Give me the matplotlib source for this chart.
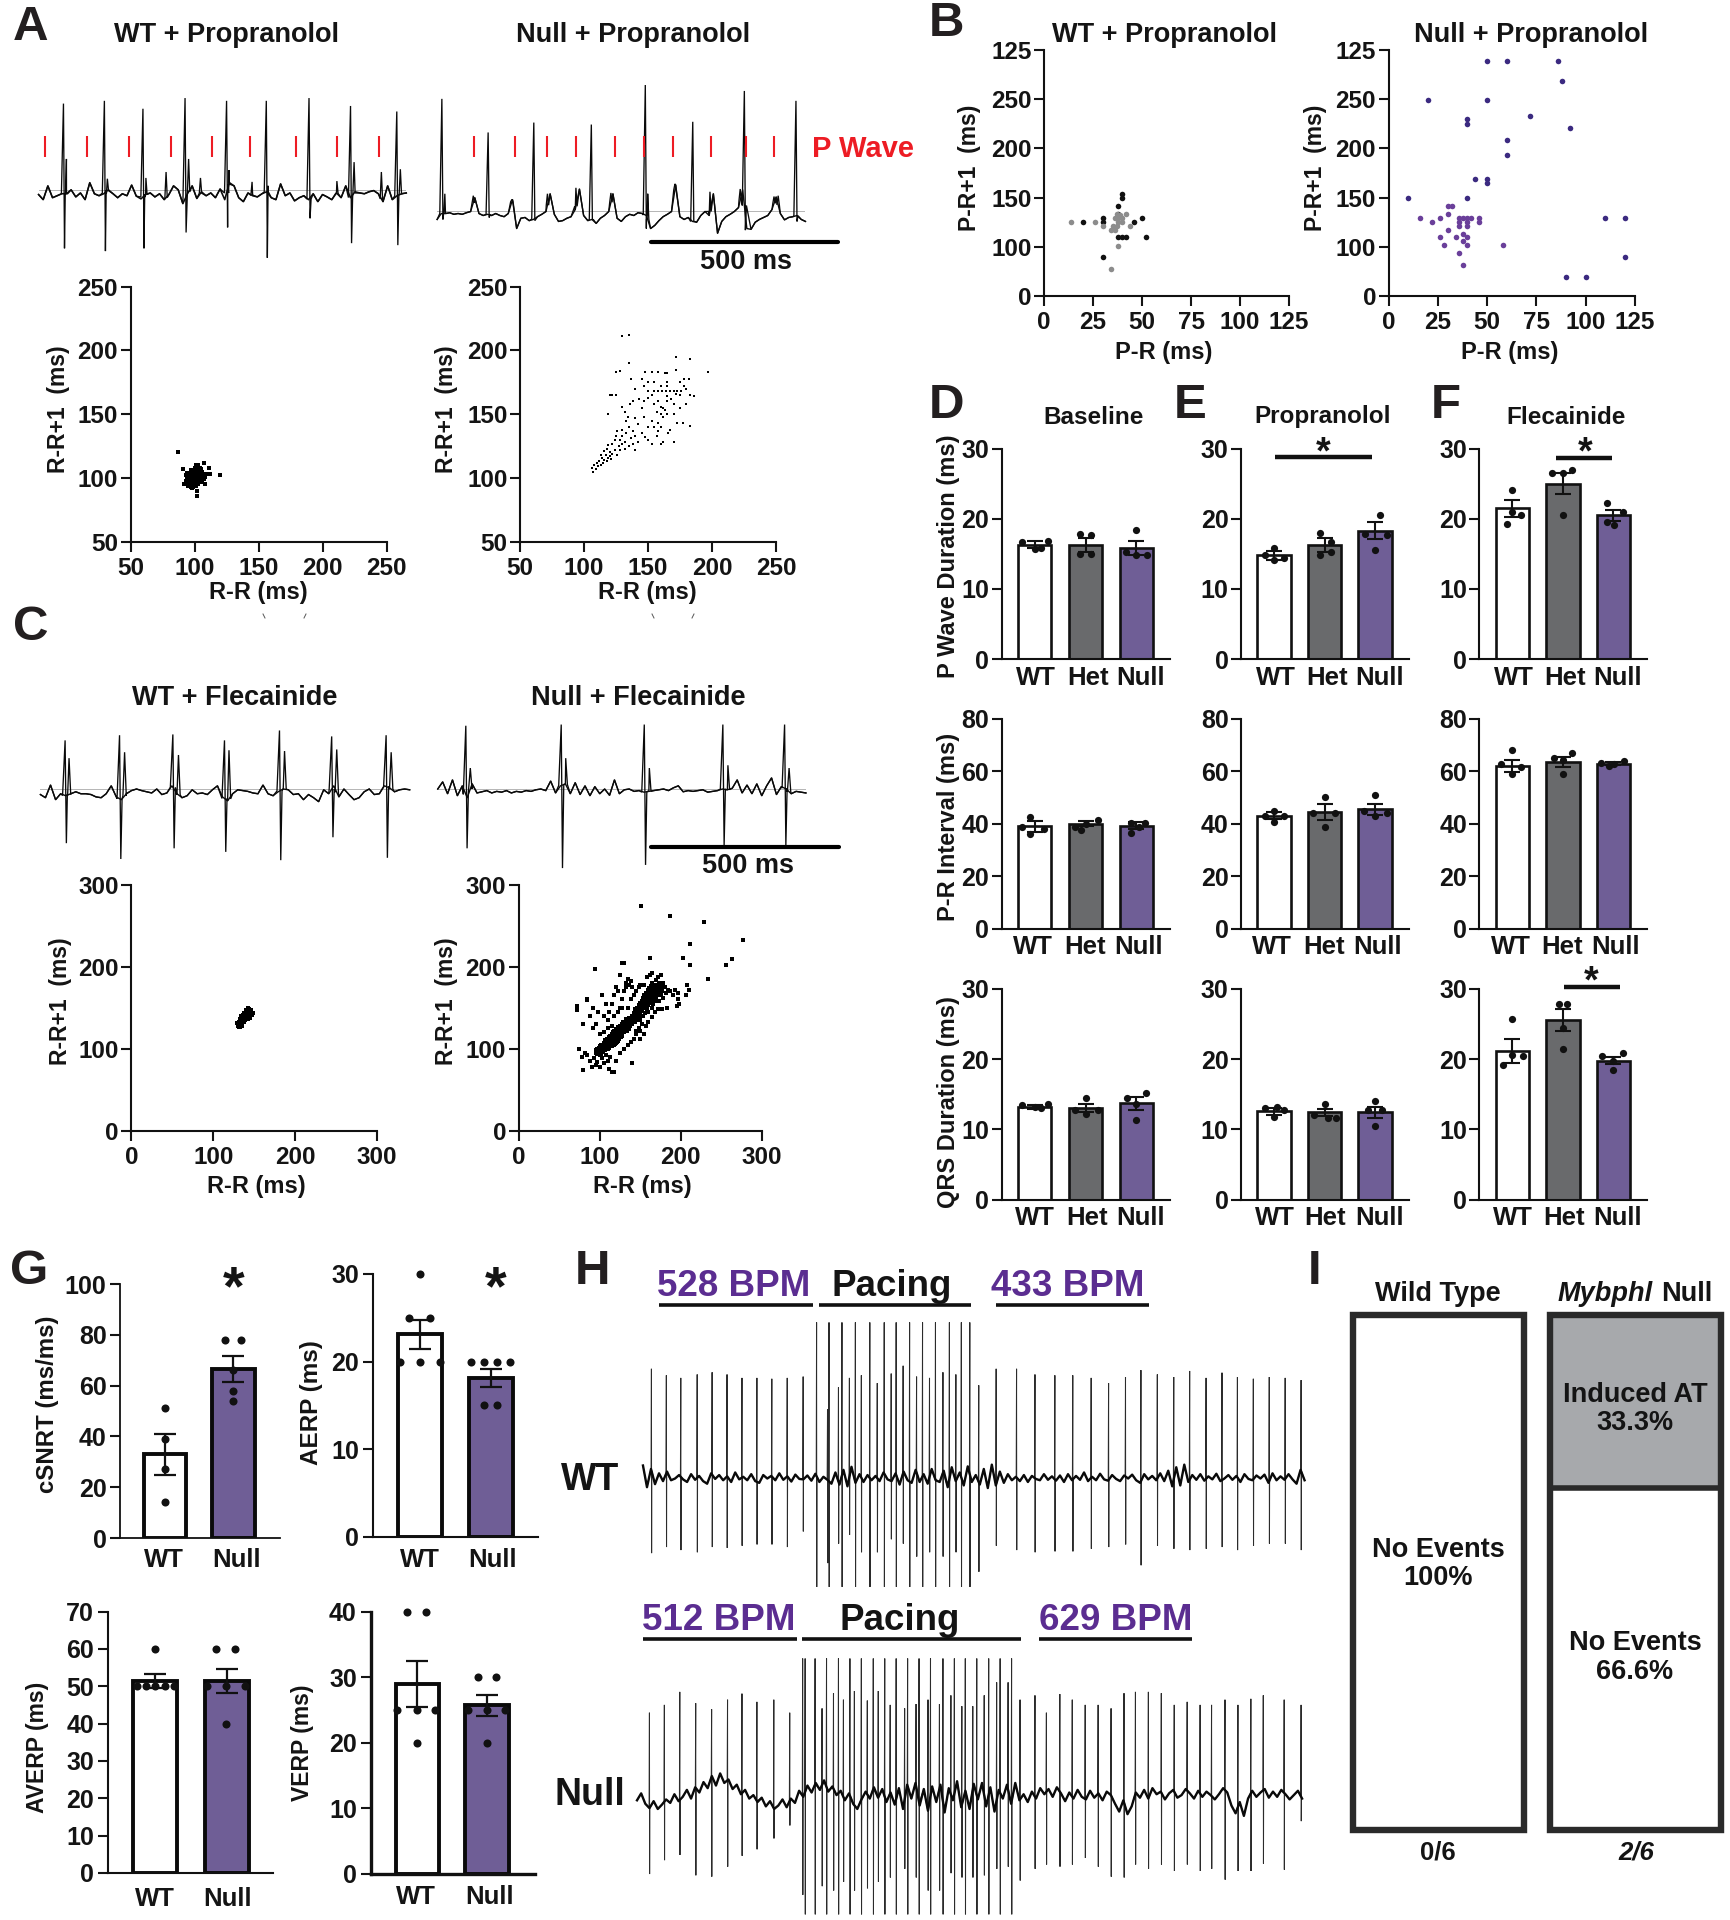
import numpy as np
import matplotlib
matplotlib.use("Agg")
import matplotlib.pyplot as plt

plt.rcParams['font.family'] = ['Liberation Sans', 'DejaVu Sans']
plt.rcParams['font.weight'] = 'bold'
plt.rcParams['axes.labelweight'] = 'bold'

W, H = 1730, 1920
INK = '#141414'
PURPLE = '#6f5e96'
GREY = '#696a6c'
BPM = '#5b2d91'
RED = '#ed1c24'

# ---------- scatter data ----------
a_wt = [(95,94),(97,93),(99,93),(101,94),(103,95),(94,96),(96,96),(98,96),(100,96),(102,96),(104,97),(106,97),(93,98),(95,98),(97,98),(99,98),(101,98),(103,98),(105,99),(107,99),(94,100),(96,100),(98,100),(100,100),(102,100),(104,100),(106,101),(108,101),(95,102),(97,102),(99,102),(101,102),(103,102),(105,103),(107,103),(110,103),(94,104),(96,104),(98,104),(100,104),(102,104),(104,104),(106,105),(97,106),(99,106),(101,106),(103,106),(105,107),(100,108),(102,108),(104,108),(101,110),(103,110),(98,92),(102,90),(102,86),(87,120),(120,102),(107,112),(111,108),(91,107),(112,103),(92,95),(108,95),(93,102)]
a_null = [(106,108),(107,105),(108,110),(109,107),(110,112),(111,109),(112,113),(113,110),(114,116),(115,112),(116,114),(117,118),(118,113),(119,116),(120,120),(121,115),(113,118),(116,121),(118,123),(120,117),(122,119),(124,122),(126,118),(119,126),(122,127),(124,130),(127,125),(128,122),(130,127),(132,123),(125,133),(128,130),(130,133),(132,128),(135,125),(137,131),(138,127),(140,122),(126,137),(130,138),(133,135),(135,140),(138,137),(140,133),(142,128),(145,135),(148,132),(150,130),(153,127),(158,137),(162,128),
 (120,165),(122,165),(125,165),(119,150),(130,156),(132,152),(134,148),(136,158),(138,160),(133,145),(140,147),(142,142),(145,155),(147,148),(143,162),(140,170),(147,172),(137,178),(135,190),(125,183),(128,184),(130,211),(135,212),
 (150,168),(155,168),(158,168),(161,168),(164,168),(167,168),(170,168),(173,168),(176,168),(165,160),(165,175),(165,182),(165,172),(165,164),(158,160),(160,156),(162,155),(155,158),(157,152),(160,150),(163,153),(168,162),(170,158),(165,150),(170,150),(172,166),(175,175),(178,172),(180,170),(183,165),(186,164),(172,195),(183,193),(197,183),(182,178),(178,178),(175,165),(172,185),(153,183),(158,183),(163,182),(155,175),(160,172),(150,175),(145,178),(148,183),(166,135),(167,138),(155,140),(158,143),(160,140),(162,148),(153,145),(157,133),(150,140),(170,128),(160,127),(183,141),(177,143),(173,143),(175,155),(180,158),(150,163),(147,160),(153,165)]
c_wt = [(130,128),(132,130),(131,133),(133,127),(135,131),(134,134),(133,136),(136,134),(137,137),(135,138),(138,132),(139,135),(137,140),(140,138),(141,141),(139,143),(142,136),(143,139),(144,143),(141,145),(143,146),(145,141),(146,144),(144,148),(146,147),(148,144),(142,149),(140,147),(138,144),(136,141),(134,140),(145,137),(147,141),(135,128),(132,126),(129,131)]
c_null = [(95,95),(96,98),(97,94),(97,100),(98,97),(99,93),(99,101),(100,96),(100,103),(101,99),(102,94),(102,105),(103,100),(103,97),(104,103),(105,100),(105,107),(106,104),(106,98),(107,110),(107,102),(108,106),(109,101),(109,112),(110,108),(110,104),(111,114),(111,106),(112,110),(112,101),(113,116),(113,108),(114,112),(114,104),(115,118),(115,110),(115,106),(116,114),(116,120),(117,108),(117,112),(118,116),(118,122),(118,104),(119,110),(119,119),(120,114),(120,124),(120,107),(121,118),(121,112),(122,121),(122,126),(122,109),(123,115),(123,119),(124,123),(124,112),(125,128),(125,118),(126,121),(126,114),(127,125),(127,130),(128,118),(128,123),(129,127),(129,133),(130,120),(130,129),(131,125),(132,131),(132,136),(133,127),(134,122),(134,133),(135,129),(136,137),(136,124),
 (140,140),(141,135),(142,143),(143,138),(144,148),(144,132),(145,142),(146,150),(146,137),(147,145),(148,153),(148,140),(149,147),(150,156),(150,143),(150,135),(151,150),(152,158),(152,146),(153,162),(153,153),(154,140),(154,149),(155,165),(155,156),(156,144),(156,160),(157,152),(157,168),(158,163),(158,148),(159,157),(159,171),(160,166),(160,153),(160,145),(161,160),(161,174),(162,169),(162,156),(163,164),(163,177),(164,150),(164,172),(165,160),(165,167),(165,180),(166,175),(166,155),(167,163),(167,170),(168,178),(168,158),(169,166),(169,184),(170,172),(170,162),(171,176),(172,168),(172,188),(173,158),(174,172),(175,165),(175,180),(176,190),(177,170),(178,162),(180,175),(182,168),(184,172),(187,170),(190,165),(193,172),(196,168),(198,155),(195,152),(183,150),(177,148),(172,148),(168,145),(165,138),(160,132),(157,128),(152,130),(148,125),(145,122),
 (110,135),(112,145),(115,155),(118,165),(120,175),(122,170),(125,190),(128,204),(130,205),(132,180),(135,185),(138,182),(136,178),(133,175),(130,170),(128,160),(125,150),(122,145),(118,140),(115,128),(110,125),(105,120),(100,118),(95,130),(92,125),(85,159),(80,130),(88,140),(92,150),(98,145),(105,140),(108,155),(103,165),(94,197),(72,152),(72,147),(84,160),(128,150),(135,150),(138,160),(142,165),(145,170),(140,175),(148,175),(150,178),(155,178),(158,188),(162,190),(165,192),
 (75,99),(80,74),(85,92),(88,85),(90,78),(93,88),(95,80),(97,84),(100,78),(103,88),(105,82),(108,92),(110,85),(113,90),(115,72),(118,71),(112,75),(120,85),(125,95),(130,100),(135,105),(140,82),(138,108),(142,112),(145,118),(150,112),(155,118),(150,122),(82,95),(78,90),
 (151,274),(187,262),(229,254),(276,232),(211,228),(203,210),(162,210),(211,202),(263,209),(256,202),(233,185),(207,178),(210,172),(196,160),(206,165),
 (101,92),(104,96),(106,101),(108,99),(110,100),(112,106),(113,103),(115,103),(117,115),(119,106),(121,108),(123,111),(125,122),(127,116),(128,126),(130,124),(131,130),(133,124),(135,133),(137,128),(138,134),(140,130),(141,138),(143,134),(145,139),(147,135),(149,151),(151,146),(152,153),(154,158),(156,150),(157,157),(158,155),(160,160),(161,168),(162,162),(163,170),(164,158),(165,173),(166,162),(167,176),(168,166),(169,172),(170,178),(171,168),(172,174),(173,180),(174,165),(176,175),(178,180),(115,113),(117,118),(119,122),(121,122),(122,116),(124,119),(126,124),(128,120)]

b_wt_dark = [(20,75),(30,79),(30,75),(40,103.5),(40,99.5),(38,91.7),(38,83.6),(50,79),(46,75),(38,59.5),(40,59.5),(42,59.5),(52,59.5),(30,39.6)]
b_wt_grey = [(14,75),(26,75),(30,70.7),(34,67),(36,67),(37,70.7),(38,75),(36,79),(38,79),(40,79),(37,83.6),(39,82.5),(42,83.6),(44,70.7),(38,51),(34,27.7),(40,75),(35,70.7)]
b_null_dark = [(50,238.8),(60,238.8),(86,238.8),(88,218.9),(20,199),(50,199),(72,183),(40,179.6),(40,174.9),(92,171.2),(60,159),(60,143.1),(44,119.4),(50,119.4),(50,114.7),(10,99.5),(40,99.5),(110,79.2),(120,79.2),(120,39.6),(90,19.6),(100,19.6)]
b_null_light = [(16,79),(22,75),(26,79),(30,91),(32,91),(30,83),(30,67.3),(26,59.5),(28,51.4),(34,59.5),(38,63),(40,59.5),(38,55.5),(40,51.4),(36,43.6),(38,31.5),(58,51.4),(36,79),(38,79),(40,79),(42,79),(36,75),(40,75),(36,70.7),(40,70.7),(46,79),(46,75)]

# ---------- bar data: rows P wave / P-R / QRS, columns baseline / propranolol / flecainide ----------
genotypes = ['WT', 'Het', 'Null']
means = [[[16.3,16.3,15.9],[14.8,16.2,18.3],[21.5,25.0,20.5]],
         [[39.0,40.0,39.3],[43.0,44.5,45.5],[62.0,63.5,63.0]],
         [[13.2,13.0,13.7],[12.6,12.4,12.4],[21.2,25.6,19.8]]]
sems =  [[[0.5,1.0,1.0],[0.6,1.0,1.2],[1.2,1.5,0.8]],
         [[2.0,1.0,1.2],[1.3,3.0,2.0],[2.3,2.0,0.5]],
         [[0.3,0.6,0.9],[0.5,0.5,0.8],[1.7,1.6,0.5]]]
dots = [[[[(-.24,16.7),(.26,16.9),(0,15.7),(.13,15.9)],[(-.11,17.9),(.11,17.7),(-.11,15),(.11,15)],[(0,18.4),(-.21,15.3),(0,14.9),(.21,14.9)]],
         [[(0,15.9),(-.17,14.8),(0,14.1),(.2,14.4)],[(-.08,18),(.12,16.7),(-.08,14.9),(.12,15.2)],[(.1,20.6),(-.2,17.9),(.23,17.7),(0,15.5)]],
         [[(0,24.1),(0,21),(.18,20.5),(-.1,19.3)],[(-.21,26.5),(.19,27),(0,26.5),(0,20.6)],[(-.12,22.2),(.18,20.9),(-.12,19.6),(.01,19.1)]]],
        [[[(-.1,42.5),(-.24,38.7),(.18,38.1),(-.1,36)],[(.24,41.3),(-.21,38.7),(0,39.8),(-.09,37.7)],[(-.11,40.2),(.17,40.4),(.06,38.7),(-.11,36.6)]],
         [[(0,45),(-.17,42.9),(.2,42.9),(0,40.8)],[(0,50.3),(-.23,44),(.2,44),(0,38.7)],[(0,50.9),(-.22,45),(.23,44),(0,42.9)]],
         [[(0,68),(-.23,62.8),(.17,61.8),(0,59)],[(-.18,65),(.19,67),(0,64.5),(0,59)],[(-.24,63.2),(.01,62.8),(.21,63.9),(-.09,62.2)]]],
        [[[(-.25,13.4),(.26,13.6),(0,13.2),(.13,13)],[(0,14.5),(-.21,12.8),(0,12.2),(.24,12.7)],[(-.19,14.5),(.19,15.2),(0,13.6),(0,11.3)]],
         [[(-.17,13),(.07,13.2),(.2,12.7),(0,11.8)],[(0,13.6),(-.21,12),(.07,11.6),(.22,11.6)],[(0,14),(-.14,12.7),(.13,12.7),(0,10.5)]],
         [[(0,25.7),(.22,20.5),(0,20.6),(-.18,19.2)],[(-.08,27.8),(.09,27.8),(0,24.5),(0,21.4)],[(-.22,20.5),(.18,20.8),(0,19.8),(0,18.5)]]]]
row_ymax = [30, 80, 30]
row_yticks = [[0,10,20,30],[0,20,40,60,80],[0,10,20,30]]
row_labels = ['P Wave Duration (ms)', 'P-R Interval (ms)', 'QRS Duration (ms)']
col_titles = ['Baseline', 'Propranolol', 'Flecainide']

# ---------- panel G ----------
g_groups = ['WT', 'Null']
csnrt = dict(mean=[33,66.5], sem=[8,5], pts=[[(0,51),(0,39),(0,27),(0,14)],[(-.12,78),(.11,78),(0,66),(0,58),(0,54)]])
aerp = dict(mean=[23.1,18.1], sem=[1.65,1.0], pts=[[(0,30),(-.15,25),(.14,25),(-.28,20),(0,20),(.28,20)],[(-.28,20),(-.1,20),(.09,20),(.27,20),(-.1,15),(.09,15)]])
averp = dict(mean=[51.4,51.4], sem=[1.9,3.2], pts=[[(0,60),(-.26,50),(-.13,50),(0,50),(.13,50),(.26,50)],[(-.15,60),(.12,60),(-.28,50),(-.01,50),(.26,50),(-.01,40)]])
verp = dict(mean=[28.9,25.7], sem=[3.5,1.6], pts=[[(-.15,40),(.12,40),(-.29,25),(0,25),(.25,25),(0,20)],[(-.13,30),(.13,30),(-.28,25),(0,25),(.26,25),(0,20)]])

# ---------- ECG traces (arbitrary units) ----------
aw_base = [492,505,470,500,495,490,490,480,498,488,505,462,490,495,490,480,490,500,490,495,468,496,503,492,488,498,490,505,492,470,480,515,490,470,502,485,495,488,500,478,505,462,470,500,510,488,495,498,490,485,500,505,465,495,488,508,500,495,505,490,510,492,498,505,488,500,470,500,485,488,490,485,482,490,510,470,505,495,490,488]
aw_spk_t = [107,176,241,312,382,449,521,591,669]
aw_spk_top = [262,255,275,248,255,255,248,268,282]
aw_spk_bot = [628,635,628,588,575,652,552,615,620]
aw_bump_t = [112,181,246,280,318,338,386,425,452,568,597,643,675]
aw_bump_top = [402,452,450,435,402,450,430,460,470,458,410,435,428]
an_base = [555,540,540,538,542,540,542,538,535,500,540,545,542,545,540,545,548,540,505,578,552,550,558,555,548,542,535,490,542,560,558,552,548,530,478,545,558,555,565,552,545,535,490,552,560,548,542,545,538,540,545,578,570,558,548,542,535,468,548,555,550,560,562,545,535,545,490,590,560,548,542,535,525,480,578,580,562,555,550,545,530,498,540,556,550,548,545,555,560]
an_spk_t = [745,823,900,997,1088,1168,1255,1342]
an_spk_top = [250,335,310,315,215,308,230,255]
an_spk_bot = [555,550,558,555,578,560,582,560]
an_bump_t = [750,798,863,923,971,1030,1092,1138,1197,1248,1305,1312]
an_bump_top = [490,495,505,490,475,488,490,465,485,478,497,495]
cw_base = [492,500,468,505,490,495,490,485,490,490,492,498,500,490,470,498,505,490,482,478,482,485,488,478,492,488,470,490,500,495,480,490,488,492,480,470,498,508,490,480,482,484,488,490,468,490,495,485,478,480,492,490,505,492,500,510,480,490,470,498,478,492,505,500,485,478,492,490,470,475,485,480,478,480]
cw_spk_t = [116,213,308,400,498,591,688]
cw_spk_top = [355,342,340,355,330,345,342]
cw_spk_bot = [615,655,628,637,658,600,652]
cw_bump_t = [123,222,318,408,507,600,697]
cw_bump_top = [400,385,392,380,382,378,385]
cn_base = [478,460,490,455,495,470,500,465,488,485,482,488,484,486,482,488,484,486,482,484,480,478,482,458,488,470,465,490,462,492,470,495,472,490,478,494,455,490,480,478,484,482,486,484,482,480,478,482,475,470,485,482,484,482,480,486,484,482,478,480,476,455,488,468,490,465,495,470,450,492,472,478,490,484,486,488]
cn_spk_t = [830,1000,1148,1288,1398]
cn_spk_top = [318,315,315,315,315]
cn_spk_bot = [628,678,670,620,620]
cn_bump_t = [838,1008,1157,1297,1406]
cn_bump_top = [425,400,425,418,425]

hw_dev = [-28,22,-20,15,-10,8,-14,6,2,-6,4,10,-8,5,-4,8,14,-10,3,-6,6,-3,10,-12,4,-2,6,-8,8,12,-6,2,-4,6,-10,5,-3,9,-7,3,4,-5,7,-9,10,-2,5,14,-12,16,-18,20,-25,12,-8,10,-6,6,-4,8,-12,4,8,-10,16,-14,6,12,-18,10,-8,14,-20,6,10,-16,22,-24,8,-12,18,-26,10,-6,16,-20,24,-30,18,-14,12,-8,6,-2,8,-6,10,-4,3,6,-8,5,-3,7,-5,10,-8,6,-4,5,-12,8,-2,6,-9,4,7,-6,3,8,-5,2,-7,6,12,-8,4,-4,6,-10,8,-16,20,-24,18,-30,10,-6,5,-8,7,-3,4,-9,8,2,-6,5,-4,10,-8,3,6,-5,2,-7,12,-10,6,-3,5,-8,4,14,-18,6]
hw_spk_t = [224,254,283,316,346,376,406,436,466,497,529,556,578,581,600,607,622,634,646,663,678,692,706,716,730,743,757,769,783,795,810,823,836,847,864,882,917,958,995,1035,1071,1108,1143,1177,1208,1241,1274,1306,1339,1371,1402,1434,1466,1498,1530]
hw_spk_top = [297,312,318,310,305,310,318,318,320,318,315,190,390,190,340,190,318,190,312,190,330,190,308,190,290,190,315,190,318,190,305,190,310,190,190,335,297,297,310,312,312,318,330,316,300,310,316,302,318,306,316,320,316,318,323]
hw_spk_bot = [722,708,715,720,708,710,705,702,702,708,672,800,745,800,700,800,680,800,720,800,720,800,690,800,700,800,730,800,720,800,730,800,720,800,800,765,705,715,720,718,718,712,708,702,750,705,712,715,712,708,715,705,700,700,715]
hn_dev = [10,-6,18,28,12,30,20,8,16,-4,12,2,-14,6,-20,-8,-32,-18,-46,-24,-52,-30,-38,-16,-26,-4,-14,6,-2,14,4,24,12,30,22,8,26,6,16,-12,2,-24,-8,-30,-14,-36,-10,-22,-2,-12,10,-6,18,30,8,-10,6,-20,4,-16,14,-8,20,-18,30,-26,6,-30,22,-16,34,-22,14,-26,38,-18,10,-34,26,-12,30,-28,8,-30,24,-20,36,-14,6,-26,18,-30,10,-4,14,-10,6,-18,-4,-16,2,-20,-6,12,-8,6,-14,2,8,-12,4,-6,10,-10,-2,18,36,10,42,24,-8,4,-14,6,-18,-4,-10,8,-6,-14,4,-2,-16,-6,6,-12,2,-10,-2,8,-4,-18,-8,22,40,14,46,6,-12,2,-8,-16,4,-10,2,-14,-4,8,-2,-12,6]
hn_spk_t = [220,250,281,313,345,377,406,436,470,502,528,533,553,567,576,590,600,610,623,632,646,658,670,680,693,704,716,733,739,756,762,780,785,803,810,826,833,848,855,870,878,893,902,918,925,941,948,965,995,1018,1045,1070,1096,1122,1148,1174,1197,1223,1249,1275,1301,1327,1350,1377,1403,1429,1454,1496,1530]
hn_spk_top = [1090,1072,1042,1068,1082,1060,1046,1065,1060,1090,965,965,965,1080,965,1045,965,1060,965,1040,965,1062,965,1040,965,1072,965,1080,965,1070,965,1060,965,1070,965,1050,965,1075,965,1075,965,1050,965,1020,965,1020,965,1060,1050,1090,1047,1060,1072,1072,1080,1045,1042,1042,1045,1072,1065,1072,1072,1060,1072,1058,1050,1060,1072]
hn_spk_bot = [1462,1430,1418,1465,1468,1445,1420,1405,1380,1350,1510,1555,1555,1490,1555,1500,1555,1480,1555,1500,1555,1495,1555,1480,1555,1470,1555,1450,1555,1470,1555,1500,1555,1500,1555,1460,1555,1470,1555,1470,1555,1465,1555,1450,1555,1445,1555,1477,1450,1440,1445,1440,1425,1445,1468,1470,1440,1450,1440,1455,1440,1455,1450,1475,1455,1455,1438,1452,1340]

p_wave_wt = [76,147,217,288,358,421,499,568,639]
p_wave_null = [800,868,922,971,1037,1085,1135,1198,1258,1305]

fig = plt.figure(figsize=(W/100, H/100), dpi=100, facecolor='white')

def ax_px(x0, ytop, x1, ybot, **kw):
    return fig.add_axes([x0/W, 1-ybot/H, (x1-x0)/W, (ybot-ytop)/H], **kw)

ov = ax_px(0, 0, W, H, zorder=50)
ov.set_xlim(0, W); ov.set_ylim(H, 0); ov.axis('off'); ov.patch.set_alpha(0)

def T(x, y, s, size=17, color=INK, **kw):
    kw.setdefault('ha', 'center'); kw.setdefault('va', 'center')
    return ov.text(x, y + 2, s, fontsize=size, color=color, fontweight=kw.pop('weight', 'bold'), **kw)

def style(ax, spine=1.5, tick=True):
    for s in ('top', 'right'):
        ax.spines[s].set_visible(False)
    for s in ('left', 'bottom'):
        ax.spines[s].set_linewidth(spine); ax.spines[s].set_color('#111111')
    ax.patch.set_alpha(0)

def scatter_panel(rect, lim, ticks, pts, ms=1.9):
    ax = ax_px(*rect); style(ax)
    arr = np.array(pts, float)
    ax.plot(arr[:, 0], arr[:, 1], ls='', marker='s', ms=ms, mew=0, color='black', clip_on=False)
    ax.set_xlim(*lim); ax.set_ylim(*lim)
    ax.set_xticks(ticks); ax.set_yticks(ticks)
    ax.tick_params(length=7, width=1.5, labelsize=17.5, pad=2, colors=INK)
    ax.tick_params(axis='x', pad=4)
    return ax

def trace(ox, oy, sx, sy, x0, x1, ytop, ybot, base, t, top, bot, bt=(), btop=(), guide=None, dt=3.0, lw=1.0, bw=2.0, devlevel=None, base_lw=1.2, color='#0a0a0a'):
    ax = ax_px(ox+x0/sx, oy+ytop/sy, ox+x1/sx, oy+ybot/sy)
    ax.axis('off'); ax.set_xlim(x0, x1); ax.set_ylim(ybot, ytop); ax.patch.set_alpha(0)
    base = np.array(base, float)
    if devlevel is not None:
        base = base + devlevel
    xb = np.linspace(x0, x1, len(base))
    keep = np.ones(len(xb), bool)
    xs, ys = [], []
    for ti, a, b in zip(t, top, bot):
        yb = np.interp(ti, xb, base)
        keep &= ~((xb > ti-dt) & (xb < ti+dt+1))
        xs += [ti-dt, ti, ti+dt*0.5, ti+dt]
        ys += [yb, a, b, yb]
    for ti, a in zip(bt, btop):
        yb = np.interp(ti, xb, base)
        xs += [ti-bw, ti, ti+bw]
        ys += [yb, a, yb]
    xs = np.r_[xb[keep], xs]; ys = np.r_[base[keep], ys]
    idx = np.argsort(xs, kind='stable')
    if guide is not None:
        ax.plot([x0, x1], [guide, guide], color='#b5b5b5', lw=0.7)
    ax.plot(xs[idx], ys[idx], color=color, lw=lw, clip_on=False, solid_joinstyle='miter')
    ax.plot(xb, base, color='#0a0a0a', lw=base_lw, clip_on=False)
    return ax

# ---------- Panel letters ----------
for x, y, s in [(31,26,'A'),(946,22,'B'),(31,626,'C'),(946,403,'D'),(1190,403,'E'),(1446,403,'F'),(29,1270,'G'),(592,1270,'H'),(1315,1270,'I')]:
    T(x, y, s, size=35.5, color='#231f20')

# ---------- Panel A ----------
T(227, 33, 'WT + Propranolol', 19.5); T(633, 33, 'Null + Propranolol', 19.5)
sx, sy = 1568/930, 1568/620
ax = trace(0, 0, sx, sy, 65, 685, 240, 655, aw_base, aw_spk_t, aw_spk_top, aw_spk_bot, aw_bump_t, aw_bump_top, guide=481, dt=3.5, lw=0.95, base_lw=1.15)
ax.vlines(p_wave_wt, 345, 398, color=RED, lw=1.5)
ax = trace(0, 0, sx, sy, 737, 1358, 210, 600, an_base, an_spk_t, an_spk_top, an_spk_bot, an_bump_t, an_bump_top, guide=533, dt=3.5, lw=0.95, base_lw=1.0)
ax.vlines(p_wave_null, 345, 398, color=RED, lw=1.5)
T(863, 147, 'P Wave', 21, color=RED)
ov.plot([651, 838], [242, 242], color='black', lw=3, solid_capstyle='round')
T(746, 260, '500 ms', 19.5)
scatter_panel((130.5, 286.7, 386.7, 541.7), (50, 250), [50,100,150,200,250], a_wt, ms=3.0)
scatter_panel((520, 286.7, 776, 541.7), (50, 250), [50,100,150,200,250], a_null, ms=2.1)
T(59, 407, 'R-R+1  (ms)', 16.5, rotation=90); T(446.6, 407, 'R-R+1  (ms)', 16.5, rotation=90)
T(258, 591, 'R-R (ms)', 17); T(647.7, 591, 'R-R (ms)', 17)
for x0, x1 in [(263, 265), (306, 304), (652, 654), (694, 692)]:
    ov.plot([x0, x1], [614, 618], color='#555555', lw=0.7)

# ---------- Panel B ----------
T(1164, 33, 'WT + Propranolol', 19.5); T(1531, 33, 'Null + Propranolol', 19.5)
b_ylab = ['0', '100', '150', '200', '250', '125']
for rect, sets in [((1044, 50, 1289, 296), [(b_wt_dark, '#111111'), (b_wt_grey, '#8c8c8c')]),
                   ((1388.5, 50, 1635, 296), [(b_null_dark, '#3b2a80'), (b_null_light, '#6a3f9a')])]:
    ax = ax_px(*rect); style(ax)
    for pts, col in sets:
        arr = np.array(pts, float)
        ax.plot(arr[:, 0], arr[:, 1], ls='', marker='o', ms=4.0, mew=0, color=col, clip_on=False)
    ax.set_xlim(0, 125); ax.set_ylim(0, 250)
    ax.set_xticks([0,25,50,75,100,125]); ax.set_yticks([0,50,100,150,200,250]); ax.set_yticklabels(b_ylab)
    ax.tick_params(length=7, width=1.5, labelsize=17.5, pad=2, colors=INK)
    ax.tick_params(axis='x', pad=4)
T(969.5, 166, 'P-R+1  (ms)', 16.5, rotation=90); T(1315.6, 166, 'P-R+1  (ms)', 16.5, rotation=90)
T(1164, 350, 'P-R (ms)', 17); T(1510, 350, 'P-R (ms)', 17)

# ---------- Panel C ----------
T(234.6, 696, 'WT + Flecainide', 19.5); T(638.6, 696, 'Null + Flecainide', 19.5)
sx, sy = 1568/880, 1568/620
trace(0, 600, sx, sy, 72, 730, 320, 665, cw_base, cw_spk_t, cw_spk_top, cw_spk_bot, cw_bump_t, cw_bump_top, guide=478, dt=4.5, lw=0.95, bw=3, base_lw=1.0)
trace(0, 600, sx, sy, 780, 1436, 310, 685, cn_base, cn_spk_t, cn_spk_top, cn_spk_bot, cn_bump_t, cn_bump_top, guide=478, dt=4.5, lw=0.95, bw=3, base_lw=1.0)
ov.plot([651, 839], [846.7, 846.7], color='black', lw=3, solid_capstyle='round')
T(748, 864, '500 ms', 19.5)
scatter_panel((131.3, 884.7, 377, 1130.6), (0, 300), [0,100,200,300], c_wt, ms=2.8)
scatter_panel((518.5, 884.7, 762, 1130.6), (0, 300), [0,100,200,300], c_null, ms=2.7)
T(60.8, 999, 'R-R+1  (ms)', 16.5, rotation=90); T(446, 999, 'R-R+1  (ms)', 16.5, rotation=90)
T(256, 1184, 'R-R (ms)', 17); T(642, 1184, 'R-R (ms)', 17)

# ---------- Panels D, E, F ----------
col_x = [(1001.6, 1170), (1241, 1408.6), (1479.4, 1646.8)]
row_y = [(448.6, 659.2), (719, 928.5), (988.9, 1199.5)]
row_off = [(.03, .04, .09), (-.03, -.01, .05), (.01, .02, .08)]
fills = ['white', GREY, PURPLE]
for r in range(3):
    for c in range(3):
        ax = ax_px(col_x[c][0], row_y[r][0], col_x[c][1], row_y[r][1]); style(ax)
        ax.bar([0, 1, 2], means[r][c], width=0.66, color=fills, edgecolor='#111111', linewidth=1.9, zorder=2)
        ax.errorbar([0, 1, 2], means[r][c], yerr=sems[r][c], fmt='none', ecolor='#111111', elinewidth=1.5, capsize=5.5, capthick=1.5, zorder=3)
        for i in range(3):
            arr = np.array(dots[r][c][i])
            ax.plot(i + arr[:, 0], arr[:, 1], ls='', marker='o', ms=5.2, mew=0, color='#111111', zorder=4)
        ax.set_xlim(-.65, 2.66); ax.set_ylim(0, row_ymax[r])
        ax.set_yticks(row_yticks[r])
        ax.set_xticks(np.arange(3) + np.array(row_off[r])); ax.set_xticklabels(genotypes)
        ax.tick_params(axis='y', length=7, width=1.5, labelsize=18, pad=2, colors=INK)
        ax.tick_params(axis='x', length=0, labelsize=18.5, pad=5, colors=INK)
for y, s in zip([554, 825, 1100], row_labels):
    T(949, y, s, 17, rotation=90)
for x, s in zip([1094, 1323, 1565.6], col_titles):
    T(x, 415, s, 17.5)
for x0, x1, y in [(1275, 1372, 457), (1556, 1612, 458.4), (1564, 1620, 987)]:
    ov.plot([x0, x1], [y, y], color='#111111', lw=3.2, solid_capstyle='butt')
for x, y in [(1323.4, 451), (1585, 451), (1591.5, 980)]:
    T(x, y, '*', 27)

# ---------- Panel G ----------
def g_panel(rect, d, ymax, yticks, xlim, width, off, pad, spine=1.5, lw=2.8):
    ax = ax_px(*rect); style(ax, spine=spine)
    ax.bar([0, 1], d['mean'], width=width, color=['white', PURPLE], edgecolor='#0a0a0a', linewidth=lw, zorder=2)
    ax.errorbar([0, 1], d['mean'], yerr=d['sem'], fmt='none', ecolor='#111111', elinewidth=1.6, capsize=8, capthick=1.6, zorder=3)
    for i in range(2):
        arr = np.array(d['pts'][i], float)
        ax.plot(i + arr[:, 0], arr[:, 1], ls='', marker='o', ms=5.8, mew=0, color='#111111', zorder=4, clip_on=False)
    ax.set_xlim(*xlim); ax.set_ylim(0, ymax)
    ax.set_yticks(yticks)
    ax.set_xticks(np.array([0, 1]) + np.array(off)); ax.set_xticklabels(g_groups)
    ax.tick_params(axis='y', length=7, width=1.5, labelsize=18, pad=3, colors=INK)
    ax.tick_params(axis='x', length=0, labelsize=18.5, pad=pad, colors=INK)

g_panel((120.4, 1284, 280, 1538), csnrt, 100, [0,20,40,60,80,100], (-.651, 1.682), .625, (-.02, .05), 7, spine=1.3)
g_panel((373, 1273.8, 537.5, 1537), aerp, 30, [0,10,20,30], (-.66, 1.66), .616, (0, .03), 8)
g_panel((108, 1611.6, 272.5, 1873), averp, 70, [0,10,20,30,40,50,60,70], (-.66, 1.64), .62, (-.01, .015), 10)
g_panel((370.7, 1611.6, 534.6, 1873.6), verp, 40, [0,10,20,30,40], (-.67, 1.68), .625, (-.02, .03), 8.5, spine=2.4)
T(47.5, 1402, 'cSNRT (ms/ms)', 17.3, rotation=90)
T(311.5, 1401, 'AERP (ms)', 17.5, rotation=90)
T(37.5, 1745, 'AVERP (ms)', 16.5, rotation=90)
T(302.5, 1741, 'VERP (ms)', 16.5, rotation=90)
T(233.6, 1288, '*', 40); T(495.7, 1288, '*', 40)

# ---------- Panel H ----------
sx, sy = 1568/780, 1568/680
trace(540, 1240, sx, sy, 207, 1537, 185, 805, hw_dev, hw_spk_t, hw_spk_top, hw_spk_bot, devlevel=548, dt=0.7, lw=0.75, base_lw=1.7, color='#2b2b2b')
trace(540, 1240, sx, sy, 195, 1532, 960, 1560, hn_dev, hn_spk_t, hn_spk_top, hn_spk_bot, devlevel=1282, dt=0.7, lw=0.75, base_lw=1.7, color='#2b2b2b')
for x, y, s, c in [(734,1284,'528 BPM',BPM),(891.7,1284,'Pacing',INK),(1068,1284,'433 BPM',BPM),
                   (719,1619,'512 BPM',BPM),(899.7,1619,'Pacing',INK),(1116,1619,'629 BPM',BPM)]:
    T(x, y, s, 26.5, color=c)
for x0, x1, y in [(659.4,812.6,1305),(819,971.3,1305),(996,1149,1305),(643,796.7,1639),(801.7,1021,1639),(1038.5,1191.7,1639)]:
    ov.plot([x0, x1], [y, y], color='#111111', lw=2.6, solid_capstyle='butt')
T(589.8, 1477.6, 'WT', 27); T(590, 1793, 'Null', 27)

# ---------- Panel I ----------
ov.add_patch(plt.Rectangle((1353.3, 1315.3), 170.4, 514.7, fc='white', ec='#2a2a2a', lw=4.6))
ov.add_patch(plt.Rectangle((1550, 1315.3), 170.7, 172.3, fc='#a7a9ac', ec='none'))
ov.add_patch(plt.Rectangle((1550, 1315.3), 170.7, 514.7, fc='none', ec='#2a2a2a', lw=4.6))
ov.plot([1550, 1720.7], [1487.6, 1487.6], color='#2a2a2a', lw=4)
T(1438, 1292, 'Wild Type', 19.5)
T(1558, 1292, 'Mybphl', 19.5, ha='left', style='italic')
T(1660.7, 1292, 'Null', 19.5, ha='left')
T(1438, 1548, 'No Events', 19.5); T(1438, 1576, '100%', 19.5)
T(1635, 1393, 'Induced AT', 19.5); T(1635, 1421, '33.3%', 19.5)
T(1635, 1641, 'No Events', 19.5); T(1635, 1670, '66.6%', 19.5)
T(1438, 1851, '0/6', 18.5); T(1636, 1851, '2/6', 18.5, style='italic')

fig.savefig('out.png', dpi=100, facecolor='white')
